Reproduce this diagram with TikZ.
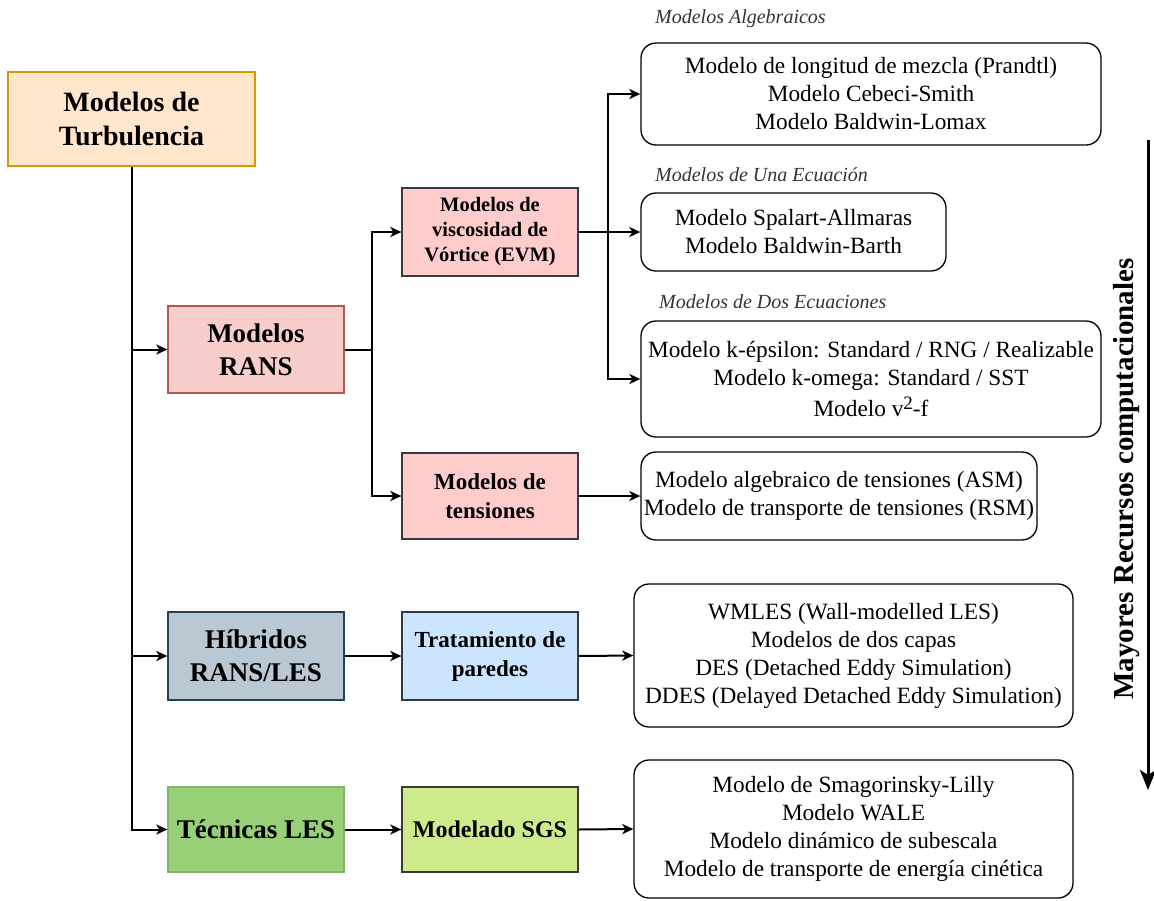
\documentclass[tikz,border=0pt]{standalone}
\usepackage{fontspec}
\setmainfont{Liberation Serif}
\usetikzlibrary{arrows.meta}

\definecolor{turbfill}{HTML}{FFE6CC}
\definecolor{turbdraw}{HTML}{D79B00}
\definecolor{ransfill}{HTML}{F8CECC}
\definecolor{ransdraw}{HTML}{B85450}
\definecolor{evmfill}{HTML}{FFCCCC}
\definecolor{darkgraydraw}{HTML}{36393D}
\definecolor{hibfill}{HTML}{BAC8D3}
\definecolor{hibdraw}{HTML}{23445D}
\definecolor{wallfill}{HTML}{CCE5FF}
\definecolor{lesfill}{HTML}{97D077}
\definecolor{lesdraw}{HTML}{82B366}
\definecolor{sgsfill}{HTML}{CDEB8B}

\tikzset{
  base/.style={rectangle, inner sep=0pt, align=center, line width=1.3pt},
  mainbox/.style={base, minimum width=176pt, minimum height=88pt,
    font=\fontsize{27}{33}\selectfont\bfseries},
  subbox/.style={base, minimum width=176pt, minimum height=88pt,
    draw=darkgraydraw, font=\fontsize{23}{29}\selectfont\bfseries},
  listbox/.style={base, draw=black, fill=white, rounded corners=15pt,
    font=\fontsize{23.3}{28}\selectfont},
  grouplabel/.style={anchor=west, inner sep=0pt,
    font=\fontsize{20}{24}\selectfont\itshape, text=black!80},
  conn/.style={line width=2pt, -{Stealth[length=11pt,width=10pt,inset=3pt]}},
  plain/.style={line width=2pt},
}

\begin{document}
\begin{tikzpicture}[x=1pt, y=-1pt]
\useasboundingbox (0,0) rectangle (1154,900);

% left column
\node[mainbox, draw=turbdraw, fill=turbfill, minimum width=247pt, minimum height=94pt,
      font=\fontsize{28}{34}\selectfont\bfseries] (turb) at (131.5,119) {Modelos de\\Turbulencia};
\node[mainbox, draw=ransdraw, fill=ransfill, minimum height=87pt] (rans) at (256,349.5) {Modelos\\RANS};
\node[mainbox, draw=hibdraw, fill=hibfill] (hib) at (256,656) {Híbridos\\RANS/LES};
\node[mainbox, draw=lesdraw, fill=lesfill, minimum height=85pt] (les) at (256,829.5) {Técnicas LES};

% second column
\node[subbox, fill=evmfill, font=\fontsize{20.5}{25}\selectfont\bfseries] (evm) at (490,232) {Modelos de\\viscosidad de\\Vórtice (EVM)};
\node[subbox, fill=evmfill, minimum height=86pt] (ten) at (490,496) {Modelos de\\tensiones};
\node[subbox, fill=wallfill] (wall) at (490,656) {Tratamiento de\\paredes};
\node[subbox, fill=sgsfill, minimum height=85pt, font=\fontsize{24}{29}\selectfont\bfseries] (sgs) at (490,829.5) {Modelado SGS};

% model lists
\node[listbox, minimum width=460pt, minimum height=102pt] (alg) at (871,94)
  {Modelo de longitud de mezcla (Prandtl)\\Modelo Cebeci-Smith\\Modelo Baldwin-Lomax};
\node[listbox, minimum width=305pt, minimum height=78pt] (una) at (793.5,232)
  {Modelo Spalart-Allmaras\\Modelo Baldwin-Barth};
\node[listbox, minimum width=460pt, minimum height=116pt] (dos) at (871,379)
  {Modelo k-épsilon: Standard / RNG / Realizable\\Modelo k-omega: Standard / SST\\[3pt]Modelo v\raisebox{7pt}{\fontsize{19}{19}\selectfont 2}-f};
\node[listbox, minimum width=396pt, minimum height=88pt] (tenl) at (839,496)
  {Modelo algebraico de tensiones (ASM)\\Modelo de transporte de tensiones (RSM)};
\node[listbox, minimum width=439pt, minimum height=143pt] (walll) at (853.5,655.5)
  {WMLES (Wall-modelled LES)\\Modelos de dos capas\\DES (Detached Eddy Simulation)\\DDES (Delayed Detached Eddy Simulation)};
\node[listbox, minimum width=439pt, minimum height=138pt] (sgsl) at (853.5,829)
  {Modelo de Smagorinsky-Lilly\\Modelo WALE\\Modelo dinámico de subescala\\Modelo de transporte de energía cinética};

% group labels
\node[grouplabel] (lalg) at (655,19) {Modelos Algebraicos};
\node[grouplabel] (luna) at (655,175) {Modelos de Una Ecuación};
\node[grouplabel] (ldos) at (659,302) {Modelos de Dos Ecuaciones};

% junction points
\coordinate (j1) at (372,349.5);
\coordinate (j2) at (608,232);

% connectors
\draw[conn] (turb.south) |- (rans.west);
\draw[conn] (turb.south) |- (hib.west);
\draw[conn] (turb.south) |- (les.west);

\draw[plain] (rans.east) -- (j1);
\draw[conn] (j1) |- (evm.west);
\draw[conn] (j1) |- (ten.west);

\draw[plain] (evm.east) -- (j2);
\draw[conn] (j2) |- (alg.west);
\draw[conn] (evm.east) -- (una.west);
\draw[conn] (j2) |- (dos.west);

\draw[conn] (ten.east) -- (tenl.west);
\draw[conn] (hib.east) -- (wall.west);
\draw[conn] (wall.east) -- (walll.west);
\draw[conn] (les.east) -- (sgs.west);
\draw[conn] (sgs.east) -- (sgsl.west);

% computational cost axis
\coordinate (ctop) at (1148,140);
\coordinate (cbot) at (1148,790);
\draw[line width=3pt, -{Stealth[length=20pt,width=16pt,inset=5pt]}] (ctop) -- (cbot);
\node[rotate=90, inner sep=0pt, font=\fontsize{29}{34}\selectfont\bfseries] (clabel) at (1127,479)
  {Mayores Recursos computacionales};

\end{tikzpicture}
\end{document}
